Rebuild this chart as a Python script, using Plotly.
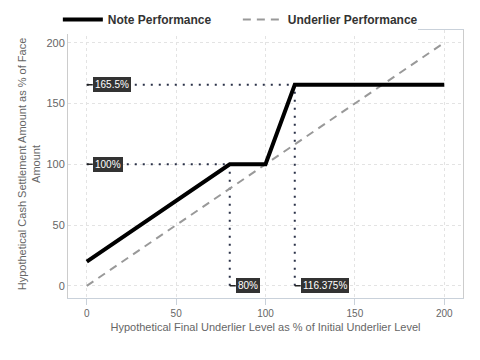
import plotly.graph_objects as go

note_x = [0, 80, 100, 116.375, 200]
note_y = [20, 100, 100, 165.5, 165.5]
under_x = [0, 200]
under_y = [0, 200]

# reference guides: (x, y, label)
h_guides = [(116.375, 165.5, "165.5%"), (80, 100, "100%")]
v_guides = [(80, 100, "80%"), (116.375, 165.5, "116.375%")]

x_ticks = [0, 50, 100, 150, 200]
y_ticks = [0, 50, 100, 150, 200]

FONT = "Liberation Sans, Arial, sans-serif"
DOT = "#2b3248"

fig = go.Figure()

for gx, gy, _ in h_guides:
    fig.add_trace(go.Scatter(x=[0, gx], y=[gy, gy], mode="lines", showlegend=False,
                             line=dict(color=DOT, width=2, dash="2px,6px"), hoverinfo="skip"))
for gx, gy, _ in v_guides:
    fig.add_trace(go.Scatter(x=[gx, gx], y=[0, gy], mode="lines", showlegend=False,
                             line=dict(color=DOT, width=2, dash="2px,6px"), hoverinfo="skip"))

fig.add_trace(go.Scatter(x=under_x, y=under_y, mode="lines", name="Underlier Performance",
                         line=dict(color="#999999", width=2, dash="8px,6px")))
fig.add_trace(go.Scatter(x=note_x, y=note_y, mode="lines", name="Note Performance",
                         line=dict(color="black", width=4)))

for gx, gy, lab in h_guides:
    fig.add_annotation(x=0, y=gy, text=lab, showarrow=True, arrowhead=0, arrowwidth=1.5,
                       arrowcolor="#222", ax=6, ay=0, xanchor="left",
                       bgcolor="#333333", bordercolor="#333333", borderpad=1,
                       font=dict(color="white", size=10, family=FONT))
for gx, gy, lab in v_guides:
    fig.add_annotation(x=gx, y=0, text=lab, showarrow=True, arrowhead=0, arrowwidth=1.5,
                       arrowcolor="#222", ax=6, ay=0, xanchor="left",
                       bgcolor="#333333", bordercolor="#333333", borderpad=1,
                       font=dict(color="white", size=10, family=FONT))

fig.update_layout(
    width=472, height=352,
    margin=dict(l=60, r=17, t=22, b=62, autoexpand=False),
    paper_bgcolor="white", plot_bgcolor="white",
    font=dict(family=FONT, color="#666666", size=11),
    legend=dict(orientation="h", x=0.43, xanchor="center", y=0.985, yanchor="bottom",
                traceorder="reversed", itemwidth=40, entrywidth=125,
                font=dict(size=12, color="#333333", family=FONT, weight="bold")),
    xaxis=dict(range=[-10.5, 210.5], tickvals=x_ticks, showgrid=True, gridcolor="#e3e3e3",
               griddash="3px,3px", zeroline=False, showline=True, linecolor="#c9d1da", mirror=True,
               ticks="outside", ticklen=6, tickcolor="#c9d1da", automargin=False,
               title=dict(text="Hypothetical Final Underlier Level as % of Initial Underlier Level",
                          font=dict(size=11, color="#666666"), standoff=5),
               tickfont=dict(size=10, color="#666666")),
    yaxis=dict(range=[-10, 210.5], tickvals=y_ticks, showgrid=True, gridcolor="#e3e3e3",
               griddash="3px,3px", zeroline=False, showline=True, linecolor="#cccccc", mirror=True,
               ticks="", automargin=False,
               title=dict(text="Hypothetical Cash Settlement Amount as % of Face<br>Amount",
                          font=dict(size=11, color="#666666"), standoff=3),
               tickfont=dict(size=11, color="#666666")),
)

fig.write_html("out.html")
